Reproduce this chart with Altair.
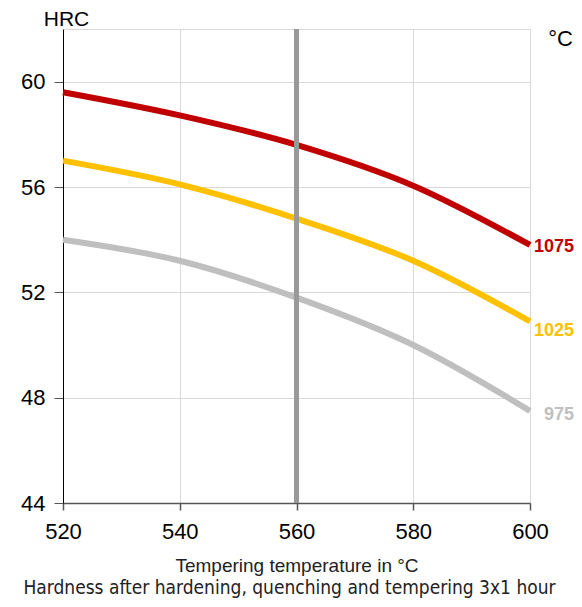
import altair as alt
import pandas as pd

temps = [520, 540, 560, 580, 600]
h1075 = [59.6, 58.72, 57.6, 56.05, 53.8]
h1025 = [57.0, 56.1, 54.8, 53.2, 50.9]
h975 = [54.0, 53.2, 51.8, 50.0, 47.5]
series = ["1075", "1025", "975"]
colors = ["#c00000", "#ffc000", "#bfbfbf"]
y_ticks = [44, 48, 52, 56, 60]
marker_temp = [560]

rows = []
for s, vals in zip(series, [h1075, h1025, h975]):
    for t, v in zip(temps, vals):
        rows.append({"temp": t, "hrc": v, "series": s})
df = pd.DataFrame(rows)

x = alt.X("temp:Q",
          scale=alt.Scale(domain=[520, 600], nice=False),
          axis=alt.Axis(values=temps, title="Tempering temperature in °C",
                        grid=True, gridColor="#d9d9d9", gridWidth=1,
                        domainColor="#555555", domainWidth=1.5,
                        tickColor="#555555", tickWidth=1.5, tickSize=7,
                        labelFont="Liberation Sans", labelFontSize=22, labelColor="#000",
                        labelPadding=11, labelFlush=False,
                        titleFont="Liberation Sans", titleFontSize=19,
                        titleFontWeight="normal", titleColor="#222",
                        titleY=62, titleBaseline="middle"))
y = alt.Y("hrc:Q",
          scale=alt.Scale(domain=[44, 62], nice=False),
          axis=alt.Axis(values=y_ticks, title=None,
                        grid=True, gridColor="#d9d9d9", gridWidth=1,
                        domainColor="#000", domainWidth=1,
                        tickColor="#555555", tickWidth=1, tickSize=9,
                        labelFont="Liberation Sans", labelFontSize=22, labelColor="#000",
                        labelPadding=9, labelFlush=False))
color = alt.Color("series:N", scale=alt.Scale(domain=series, range=colors), legend=None)

lines = alt.Chart(df).mark_line(strokeWidth=6, interpolate="monotone").encode(
    x=x, y=y, color=color)

rule = alt.Chart(pd.DataFrame({"t": marker_temp})).mark_rule(
    color="#999999", strokeWidth=5).encode(x="t:Q")

end_layers = []
for s, col, dy in zip(series, colors, [2, 10, 4]):
    d = df[(df.series == s) & (df.temp == temps[-1])]
    end_layers.append(alt.Chart(d).mark_text(
        align="right", baseline="middle", dx=44, dy=dy,
        font="Liberation Sans", fontSize=18, fontWeight="bold", color=col
    ).encode(x="temp:Q", y="hrc:Q", text="series:N"))

hrc = alt.Chart(pd.DataFrame({"t": ["HRC"]})).mark_text(
    align="center", baseline="alphabetic", font="Liberation Sans", fontSize=21, color="#000"
).encode(text="t:N", x=alt.value(3.5), y=alt.value(-3.5))

degc = alt.Chart(pd.DataFrame({"t": ["°C"]})).mark_text(
    align="right", baseline="alphabetic", font="Liberation Sans", fontSize=22, color="#000"
).encode(text="t:N", x=alt.value(510), y=alt.value(16.5))

chart = alt.layer(lines, rule, *end_layers, hrc, degc).properties(
    width=467, height=474,
    autosize=alt.AutoSizeParams(type="none"),
    padding={"left": 55, "top": 21, "right": 44, "bottom": 96},
    title=alt.TitleParams(
        text="Hardness after hardening, quenching and tempering  3x1 hour",
        orient="bottom", font="'DejaVu Sans Condensed', 'Liberation Sans'", fontSize=19,
        fontWeight="normal", color="#222", anchor="middle", offset=4, dx=-7),
).configure_view(stroke="#d9d9d9", strokeWidth=1)

chart.save("out.html", embed_options={"renderer": "svg", "actions": False})
